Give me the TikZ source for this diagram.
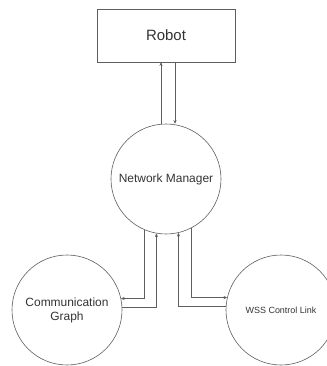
\documentclass[tikz,border=0pt]{standalone}
\usepackage{fontspec}
\setmainfont{Liberation Sans}
\usetikzlibrary{arrows.meta}
\definecolor{ln}{HTML}{5E5E5E}
\definecolor{tx}{HTML}{333333}
\begin{document}
\begin{tikzpicture}[x=1bp,y=-1bp,
  box/.style={draw=ln,line width=0.6bp,minimum width=138bp,minimum height=53bp,inner sep=0pt,text=tx,font=\fontsize{15}{17}\selectfont},
  circ/.style={draw=ln,line width=0.6bp,circle,minimum size=110bp,inner sep=0pt,text=tx,align=center},
  arr/.style={draw=ln,line width=0.6bp,-{Stealth[length=3.6bp,width=3.2bp,fill=black!80]}},
  ln/.style={draw=ln,line width=0.6bp}]
\useasboundingbox (0,0) rectangle (327,366);
\node[box] (R) at (166,35.5) {Robot};
\node[circ,font=\fontsize{12}{14}\selectfont] (NM) at (166,179) {Network Manager};
\node[circ,font=\fontsize{12}{14}\selectfont] (CG) at (67,310) {Communication\\Graph};
\node[circ,font=\fontsize{9}{11}\selectfont] (WS) at (281,310) {WSS Control Link};
\draw[arr] ([xshift=-5bp]NM.north) -- ([xshift=-5bp]R.south);
\draw[arr] ([xshift=9bp]R.south) -- ([xshift=9bp]NM.north);
\draw[arr] (NM.247.6) |- (CG.12.6);
\draw[arr] (CG.3.1) -| (NM.260.6);
\draw[arr] (WS.176.9) -| (NM.283.7);
\draw[arr] (NM.297) |- (WS.167.4);
\end{tikzpicture}
\end{document}
